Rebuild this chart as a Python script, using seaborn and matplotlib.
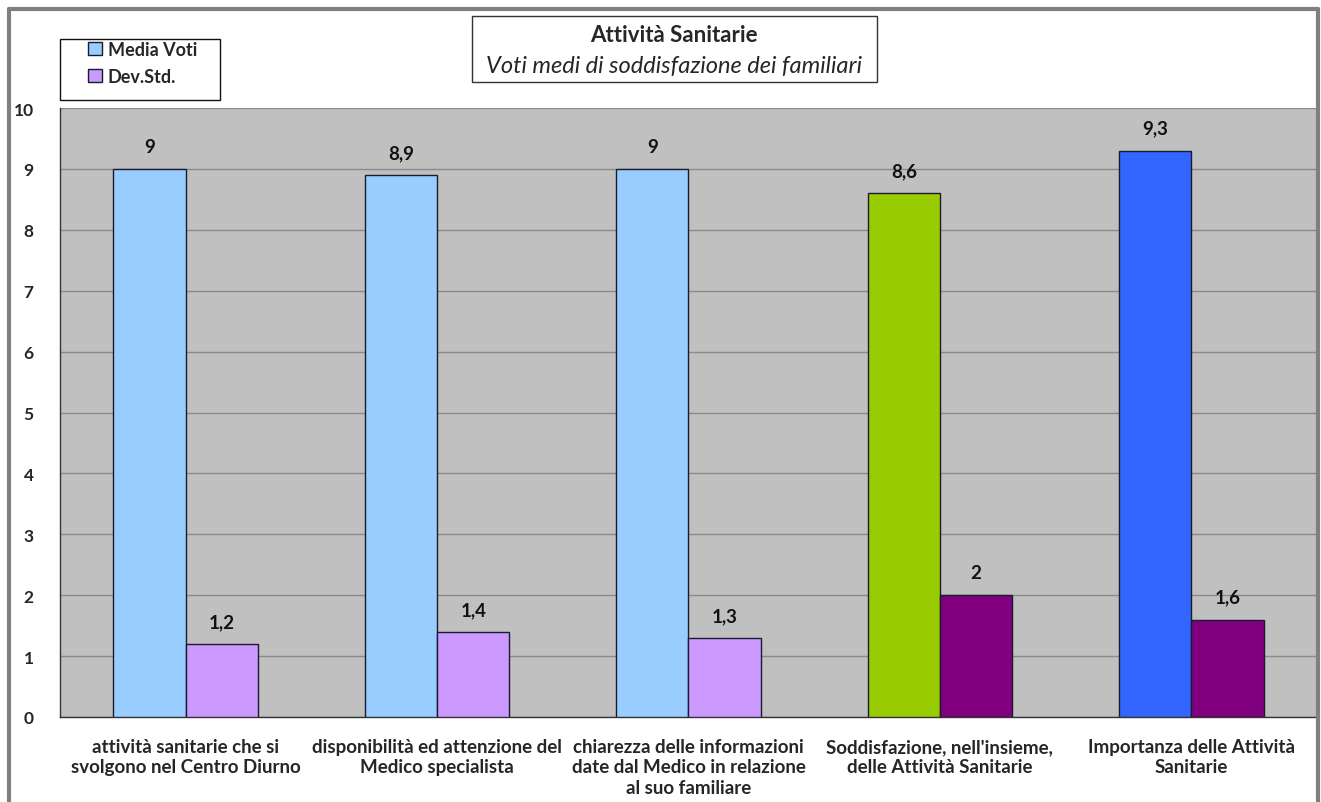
import pandas as pd
import numpy as np
import seaborn as sns
import matplotlib.pyplot as plt
from matplotlib.patches import Patch, Rectangle
from matplotlib.lines import Line2D

# DATI DEL GRAFICO
categorie = [
    "attività sanitarie che si\nsvolgono nel Centro Diurno",
    "disponibilità ed attenzione del\nMedico specialista",
    "chiarezza delle informazioni\ndate dal Medico in relazione\nal suo familiare",
    "Soddisfazione, nell'insieme,\ndelle Attività Sanitarie",
    "Importanza delle Attività\nSanitarie",
]
media_voti = [9, 8.9, 9, 8.6, 9.3]
dev_std = [1.2, 1.4, 1.3, 2, 1.6]
serie = ["Media Voti", "Dev.Std."]
tacche_y = list(range(0, 11))

# colori per singola barra
colori_media = ["#99CCFF", "#99CCFF", "#99CCFF", "#99CC00", "#3366FF"]
colori_dev = ["#CC99FF", "#CC99FF", "#CC99FF", "#800080", "#800080"]

df = pd.DataFrame({
    "categoria": categorie * 2,
    "serie": [serie[0]] * len(categorie) + [serie[1]] * len(categorie),
    "valore": media_voti + dev_std,
})

sns.set_style("white")
plt.rcParams["font.family"] = ["Lato", "DejaVu Sans"]
plt.rcParams["font.weight"] = "bold"

fig = plt.figure(figsize=(13.21, 8.03), dpi=100)
W, H = 1321, 803
ax = fig.add_axes([60 / W, 1 - 718 / H, (1317 - 60) / W, (718 - 109) / H])
ax.set_facecolor("#C0C0C0")

sns.barplot(data=df, x="categoria", y="valore", hue="serie", ax=ax,
            width=0.575, gap=0, edgecolor="#1a1a2e", linewidth=1.0,
            legend=False, zorder=3)

for cont, colori in zip(ax.containers, [colori_media, colori_dev]):
    for patch, c in zip(cont, colori):
        patch.set_facecolor(c)

for cont, valori in zip(ax.containers, [media_voti, dev_std]):
    etichette = [("%g" % v).replace(".", ",") for v in valori]
    ax.bar_label(cont, labels=etichette, padding=10, fontsize=13.5,
                 fontweight="bold", color="#111111")

ax.set_ylim(0, 10)
ax.set_xlim(-0.5, len(categorie) - 0.5)
ax.set_yticks(tacche_y)
ax.set_yticklabels([str(t) for t in tacche_y], fontweight="bold", fontsize=12.5)
ax.yaxis.grid(True, color="#8a8a8a", linewidth=1, zorder=0)
ax.set_axisbelow(True)
ax.set_xlabel("")
ax.set_ylabel("")

# tacche tra le categorie
ax.set_xticks(np.arange(-0.5, len(categorie)), minor=True)
ax.tick_params(axis="x", which="major", length=0, pad=15, labelsize=13.5)
ax.tick_params(axis="x", which="minor", length=8, width=1, direction="out", color="#333333")
ax.tick_params(axis="y", length=6, width=1, direction="out", color="#333333", pad=13)
for lab in ax.get_xticklabels():
    lab.set_fontweight("bold")
    lab.set_multialignment("center")
    lab.set_linespacing(1.25)

for s in ["top", "right"]:
    ax.spines[s].set_visible(False)
ax.spines["left"].set_color("#333333")
ax.spines["bottom"].set_color("#333333")
ax.spines["left"].set_linewidth(1)
ax.spines["bottom"].set_linewidth(1)

# legenda (riquadro disegnato a parte)
fig.add_artist(Rectangle((60 / W, 1 - 101 / H), (220 - 60) / W, (101 - 40) / H,
                         transform=fig.transFigure, facecolor="white",
                         edgecolor="#111111", linewidth=1))
maniglie = [Patch(facecolor=colori_media[0], edgecolor="#1a1a2e"),
            Patch(facecolor=colori_dev[0], edgecolor="#1a1a2e")]
leg = fig.legend(maniglie, serie, loc="upper left",
                 bbox_to_anchor=(88 / W, 1 - 42 / H), frameon=False,
                 handlelength=0.75, handleheight=0.75, handletextpad=0.35,
                 borderpad=0, labelspacing=0.55, borderaxespad=0,
                 prop={"weight": "bold", "size": 13})

# riquadro titolo
fig.add_artist(Rectangle((472 / W, 1 - 83 / H), (877 - 472) / W, (83 - 17) / H,
                         transform=fig.transFigure, facecolor="white",
                         edgecolor="#333333", linewidth=1))
fig.text(674 / W, 1 - 36 / H, "Attività Sanitarie", ha="center", va="center",
         fontsize=16, fontweight="bold")
fig.text(674 / W, 1 - 66 / H, "Voti medi di soddisfazione dei familiari",
         ha="center", va="center", fontsize=17, fontstyle="italic",
         fontweight="normal")

# cornice esterna
for xs, ys in [([9 / W, 9 / W], [0, 1 - 10 / H]),
               ([9 / W, 1318 / W], [1 - 10 / H, 1 - 10 / H]),
               ([1318 / W, 1318 / W], [1 - 10 / H, 0])]:
    fig.add_artist(Line2D(xs, ys, transform=fig.transFigure,
                          color="#808080", linewidth=3))

fig.savefig("out.png", dpi=100)
